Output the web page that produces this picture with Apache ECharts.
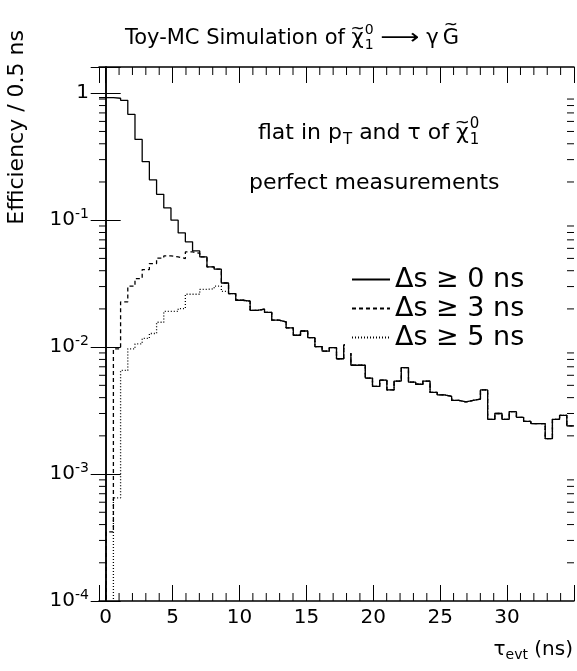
<!DOCTYPE html>
<html>
<head>
<meta charset="utf-8">
<script src="https://cdn.jsdelivr.net/npm/echarts@6.0.0/dist/echarts.min.js"></script>
</head>
<body style="margin:0">
<div id="main" style="width:577px;height:671px;"></div>
<script>
// histogram binning (ns)
var xMin = -0.5, xMax = 35, nBins = 66;
var yMin = 1e-4, yMax = 1.61;

var seriesNames = ['\u0394s \u2265 0 ns', '\u0394s \u2265 3 ns', '\u0394s \u2265 5 ns'];

// efficiency per bin, 0 = empty bin
var effDs0 = [0.924, 0.924, 0.913, 0.880, 0.682, 0.433, 0.289, 0.208, 0.160, 0.125,
  0.100, 0.0794, 0.0675, 0.0573, 0.0514, 0.0428, 0.0411, 0.0320, 0.0264, 0.0234,
  0.0230, 0.0195, 0.0199, 0.0188, 0.0163, 0.0158, 0.0142, 0.0124, 0.0134, 0.0119,
  0.0101, 0.0093, 0.0099, 0.0081, 0.0104, 0.0072, 0.0072, 0.0057, 0.0049, 0.0055,
  0.0046, 0.0054, 0.0069, 0.0053, 0.0051, 0.0054, 0.0044, 0.0042, 0.0041, 0.0038,
  0.0037, 0.0038, 0.0039, 0.0046, 0.0027, 0.0030, 0.0027, 0.0031, 0.0028, 0.0026,
  0.0025, 0.0025, 0.0019, 0.0027, 0.0029, 0.0024];
var effDs3 = [0, 0.00035, 0.0097, 0.0227, 0.0302, 0.0347, 0.0408, 0.0455, 0.0503, 0.0523,
  0.0514, 0.0499, 0.0562, 0.0549, 0.0514, 0.0428, 0.0411, 0.0320, 0.0264, 0.0234,
  0.0230, 0.0195, 0.0199, 0.0188, 0.0163, 0.0158, 0.0142, 0.0124, 0.0134, 0.0119,
  0.0101, 0.0093, 0.0099, 0.0081, 0.0104, 0.0072, 0.0072, 0.0057, 0.0049, 0.0055,
  0.0046, 0.0054, 0.0069, 0.0053, 0.0051, 0.0054, 0.0044, 0.0042, 0.0041, 0.0038,
  0.0037, 0.0038, 0.0039, 0.0046, 0.0027, 0.0030, 0.0027, 0.0031, 0.0028, 0.0026,
  0.0025, 0.0025, 0.0019, 0.0027, 0.0029, 0.0024];
var effDs5 = [0, 0, 0.00065, 0.00655, 0.0097, 0.0106, 0.0117, 0.0128, 0.0157, 0.0191,
  0.0191, 0.0201, 0.0261, 0.0261, 0.0285, 0.0288, 0.0302, 0.0275, 0.0264, 0.0234,
  0.0230, 0.0195, 0.0199, 0.0188, 0.0163, 0.0158, 0.0142, 0.0124, 0.0134, 0.0119,
  0.0101, 0.0093, 0.0099, 0.0081, 0.0104, 0.0072, 0.0072, 0.0057, 0.0049, 0.0055,
  0.0046, 0.0054, 0.0069, 0.0053, 0.0051, 0.0054, 0.0044, 0.0042, 0.0041, 0.0038,
  0.0037, 0.0038, 0.0039, 0.0046, 0.0027, 0.0030, 0.0027, 0.0031, 0.0028, 0.0026,
  0.0025, 0.0025, 0.0019, 0.0027, 0.0029, 0.0024];

var FONT = '"DejaVu Sans", sans-serif';

// minor tick positions
var xMinor = [];
for (var i = 1; i < 35; i++) if (i % 5 !== 0) xMinor.push(i);
var yMinor = [];
for (var e = -4; e < 0; e++) for (var k = 2; k <= 9; k++) yMinor.push(k * Math.pow(10, e));

function histPoints(vals) {
  var w = (xMax - xMin) / nBins, pts = [];
  vals.forEach(function (v, i) {
    var y = v > 0 ? v : 1e-9;
    pts.push([xMin + i * w, y], [xMin + (i + 1) * w, y]);
  });
  return pts;
}

// ROOT-like latex: pieces laid out left to right, sup/sub stacked
var ctx = document.createElement('canvas').getContext('2d');
function tw(s, size) { ctx.font = size + 'px ' + FONT; return ctx.measureText(s).width; }
function pieceWidth(p, size, small) {
  if (p.t) return tw(p.t, size) * (p.sx || 1);
  return Math.max(tw(p.sup || '', small), tw(p.sub || '', small)) + 1;
}
function latex(parts, x0, ymid, size, align) {
  var small = Math.round(size * 0.68), total = 0;
  parts.forEach(function (p) { total += pieceWidth(p, size, small); });
  var x = align === 'center' ? x0 - total / 2 : x0;
  var els = [];
  function txt(s, xx, yy, sz, sx) {
    els.push({ type: 'text', x: xx, y: yy, scaleX: sx || 1, style: { text: s, font: sz + 'px ' + FONT, fill: '#000',
      align: 'left', verticalAlign: 'middle', textAlign: 'left', textVerticalAlign: 'middle' } });
  }
  parts.forEach(function (p) {
    var w = pieceWidth(p, size, small);
    if (p.t) {
      txt(p.t, x, ymid, size, p.sx);
      if (p.tilde) {
        var tsz = Math.round(size * 0.8);
        txt('~', x + w / 2 - tw('~', tsz) / 2, ymid - size * (p.tilde === 'cap' ? 0.64 : 0.44), tsz);
      }
    } else {
      if (p.sup) txt(p.sup, x + 1, ymid - size * 0.42, small);
      if (p.sub) txt(p.sub, x + 1, ymid + size * 0.32, small);
    }
    x += w;
  });
  return els;
}

var graphics = []
  .concat(latex([{ t: 'Toy-MC Simulation of ' }, { t: '\u03c7', tilde: 'low' }, { sup: '0', sub: '1' },
    { t: ' ' }, { t: '\u27f6', sx: 1.3 }, { t: ' \u03b3' }, { t: '\u2009' }, { t: 'G', tilde: 'cap' }], 292, 39, 21, 'center'))
  .concat(latex([{ t: 'flat in p' }, { sub: 'T' }, { t: ' and \u03c4 of ' }, { t: '\u03c7', tilde: 'low' },
    { sup: '0', sub: '1' }], 258, 133, 22, 'left'))
  .concat(latex([{ t: 'perfect measurements' }], 249, 183, 22, 'left'));

graphics.push({
  type: 'text', x: 17, y: 30, rotation: Math.PI / 2,
  style: { text: 'Efficiency / 0.5 ns', font: '22px ' + FONT, fill: '#000',
    align: 'right', verticalAlign: 'middle', textAlign: 'right', textVerticalAlign: 'middle' }
});
graphics.push({
  type: 'text', x: 573, y: 650,
  style: { text: '\u03c4{sub|evt} (ns)', font: '20px ' + FONT, fill: '#000',
    align: 'right', verticalAlign: 'middle', textAlign: 'right', textVerticalAlign: 'middle',
    rich: { sub: { fontSize: 14, fontFamily: FONT, padding: [11, 0, 0, 0] } } }
});

var axisLineStyle = { lineStyle: { color: '#000', width: 1.5 } };
var tickStyle = { lineStyle: { color: '#000', width: 1 } };

var myChart = echarts.init(document.getElementById('main'));
myChart.setOption({
  animation: false,
  backgroundColor: '#fff',
  grid: { left: 99, right: 2, top: 67, bottom: 70 },
  graphic: graphics,
  legend: {
    data: seriesNames,
    orient: 'vertical',
    left: 345, top: 265,
    backgroundColor: '#fff',
    padding: [0, 8, 1, 6],
    itemWidth: 38, itemHeight: 12, itemGap: 0,
    selectedMode: false,
    itemStyle: { opacity: 0 },
    textStyle: { fontFamily: FONT, fontSize: 27, color: '#000', lineHeight: 29 }
  },
  xAxis: [{
    type: 'value', min: xMin, max: xMax, splitNumber: 7, position: 'bottom',
    axisLine: axisLineStyle,
    axisTick: Object.assign({ inside: true, length: 16 }, tickStyle),
    axisLabel: {
      fontFamily: FONT, fontSize: 20, color: '#000', margin: 7,
      formatter: function (v) { return v < 0 || v > 34 ? '' : String(v); }
    },
    splitLine: { show: false }
  }, {
    type: 'value', min: xMin, max: xMax, splitNumber: 7, position: 'top',
    axisLine: axisLineStyle,
    axisTick: Object.assign({ inside: true, length: 16 }, tickStyle),
    axisLabel: { show: false },
    splitLine: { show: false }
  }],
  yAxis: [{
    type: 'log', logBase: 10, min: yMin, max: yMax,
    axisLine: axisLineStyle,
    axisTick: Object.assign({ inside: true, length: 15 }, tickStyle),
    axisLabel: {
      fontFamily: FONT, fontSize: 20, color: '#000', margin: 10,
      formatter: function (v) {
        var ex = Math.log10(v), r = Math.round(ex);
        if (Math.abs(ex - r) > 1e-6) return '';
        return r === 0 ? '1' : '10{sup|' + r + '}';
      },
      rich: { sup: { fontFamily: FONT, fontSize: 14, color: '#000', padding: [0, 0, 11, 0] } }
    },
    splitLine: { show: false }
  }, {
    type: 'log', logBase: 10, min: yMin, max: yMax, position: 'right',
    axisLine: axisLineStyle,
    axisTick: Object.assign({ inside: true, length: 15 }, tickStyle),
    axisLabel: { show: false },
    splitLine: { show: false }
  }],
  series: [
    { name: seriesNames[0], type: 'line', data: histPoints(effDs0), symbol: 'none', z: 2,
      lineStyle: { color: '#000', width: 1.3, type: 'solid' }, itemStyle: { color: '#000' } },
    { name: seriesNames[1], type: 'line', data: histPoints(effDs3), symbol: 'none', z: 2,
      lineStyle: { color: '#000', width: 1.3, type: [4, 3] }, itemStyle: { color: '#000' } },
    { name: seriesNames[2], type: 'line', data: histPoints(effDs5), symbol: 'none', z: 2,
      lineStyle: { color: '#000', width: 1.3, type: [1, 2] }, itemStyle: { color: '#000' } },
    {
      type: 'custom', silent: true, z: 3,
      data: xMinor.map(function (v) { return [v, yMin]; }),
      renderItem: function (params, api) {
        var cs = params.coordSys, x = api.coord([api.value(0), yMin])[0];
        var st = { stroke: '#000', lineWidth: 1 };
        return { type: 'group', children: [
          { type: 'line', shape: { x1: x, y1: cs.y + cs.height, x2: x, y2: cs.y + cs.height - 8 }, style: st },
          { type: 'line', shape: { x1: x, y1: cs.y, x2: x, y2: cs.y + 8 }, style: st }
        ] };
      }
    },
    {
      type: 'custom', silent: true, z: 3,
      data: yMinor.map(function (v) { return [0, v]; }),
      renderItem: function (params, api) {
        var cs = params.coordSys, y = api.coord([0, api.value(1)])[1];
        var st = { stroke: '#000', lineWidth: 1 };
        return { type: 'group', children: [
          { type: 'line', shape: { x1: cs.x, y1: y, x2: cs.x + 7, y2: y }, style: st },
          { type: 'line', shape: { x1: cs.x + cs.width, y1: y, x2: cs.x + cs.width - 7, y2: y }, style: st }
        ] };
      }
    }
  ]
});
</script>
</body>
</html>
